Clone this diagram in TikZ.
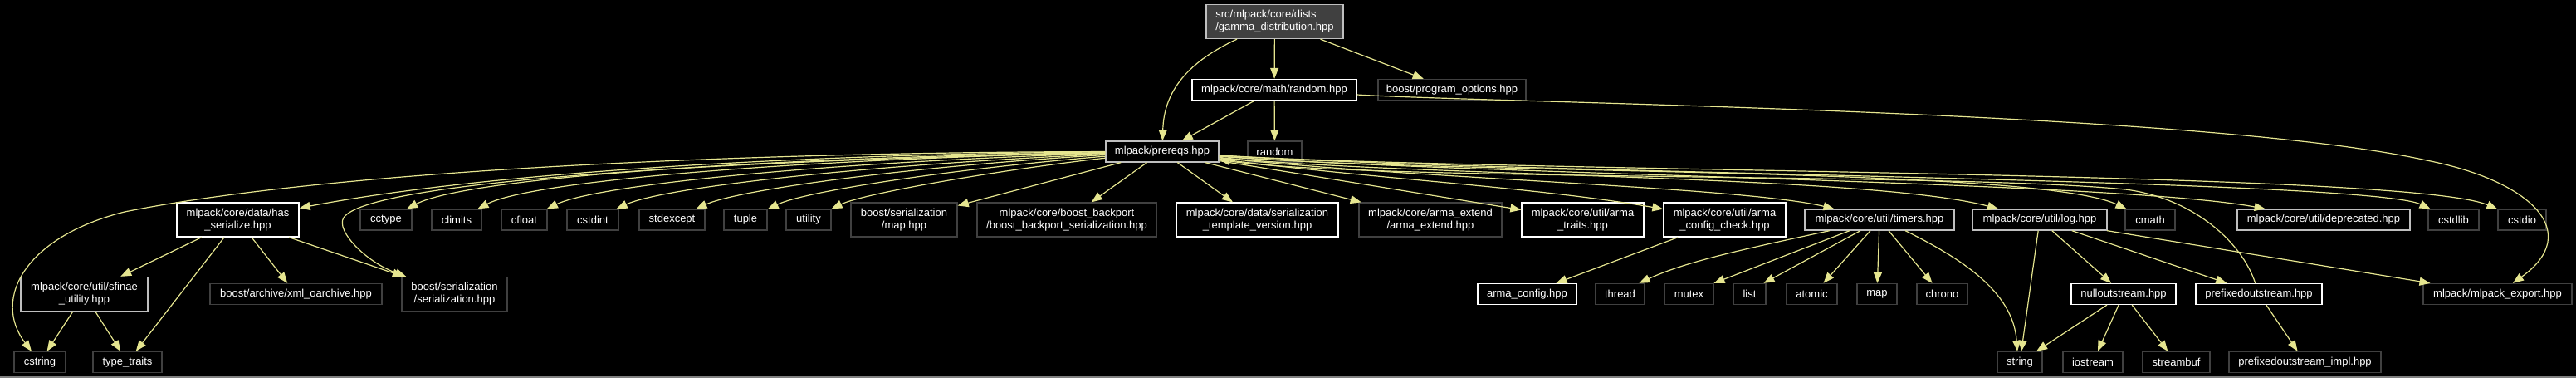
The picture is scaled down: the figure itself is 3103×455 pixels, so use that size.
\documentclass[tikz,border=0pt]{standalone}
\usepackage{fontspec}
\setmainfont{Liberation Sans}
\usetikzlibrary{arrows.meta,calc}
\definecolor{edgec}{RGB}{229,229,143}
\definecolor{dkgrey}{RGB}{64,64,64}
\definecolor{ltgrey}{RGB}{191,191,191}
\definecolor{rootfill}{RGB}{64,64,64}
\tikzset{
  box/.style={draw, line width=1.3pt, inner sep=0pt, text=white,
    font=\fontsize{13}{15}\selectfont, align=center, minimum height=25pt},
  dbox/.style={box, draw=dkgrey},
  lbox/.style={box, draw=white},
  gbox/.style={box, draw=ltgrey},
  two/.style={minimum height=41pt},
  conn/.style={draw=edgec, line width=1.2pt, -{Triangle[length=13pt,width=10pt]}}
}
\begin{document}
\begin{tikzpicture}[x=1pt,y=-1pt]
\useasboundingbox (0,0) rectangle (3103,455);
\fill[black] (0,0) rectangle (3103,455);
\draw[gray, line width=1.5pt] (0,454) -- (3103,454);

% row 1-2
\node[gbox, two, fill=rootfill, minimum width=165pt, align=left] (root) at (1535.5,26) {src/mlpack/core/dists\\/gamma\_distribution.hpp};
\node[lbox, minimum width=198pt] (rnd) at (1535,108) {mlpack/core/math/random.hpp};
\node[dbox, minimum width=178pt] (po) at (1749,108) {boost/program\_options.hpp};
\node[gbox, minimum width=136pt] (prereqs) at (1400,182.5) {mlpack/prereqs.hpp};
\node[dbox, minimum width=65pt] (random) at (1535.5,182.5) {random};

% row 3
\node[lbox, two, minimum width=147pt] (hasser) at (286.5,264.5) {mlpack/core/data/has\\\_serialize.hpp};
\node[dbox, minimum width=62pt] (cctype) at (465,264.5) {cctype};
\node[dbox, minimum width=60pt] (climits) at (550,264.5) {climits};
\node[dbox, minimum width=55pt] (cfloat) at (631.5,264.5) {cfloat};
\node[dbox, minimum width=62pt] (cstdint) at (714,264.5) {cstdint};
\node[dbox, minimum width=79pt] (stdexcept) at (809.5,264.5) {stdexcept};
\node[dbox, minimum width=52pt] (tuple) at (898,264.5) {tuple};
\node[dbox, minimum width=54pt] (utility) at (974,264.5) {utility};
\node[dbox, two, minimum width=128pt] (sermap) at (1089,264.5) {boost/serialization\\/map.hpp};
\node[dbox, two, minimum width=216pt] (backport) at (1285,264.5) {mlpack/core/boost\_backport\\/boost\_backport\_serialization.hpp};
\node[lbox, two, minimum width=195pt] (stv) at (1514.5,264.5) {mlpack/core/data/serialization\\\_template\_version.hpp};
\node[dbox, two, minimum width=172pt] (armaext) at (1723,264.5) {mlpack/core/arma\_extend\\/arma\_extend.hpp};
\node[lbox, two, minimum width=147pt] (armatraits) at (1906.5,264.5) {mlpack/core/util/arma\\\_traits.hpp};
\node[lbox, two, minimum width=147pt] (acc) at (2077.5,264.5) {mlpack/core/util/arma\\\_config\_check.hpp};
\node[gbox, minimum width=180pt] (timers) at (2264,264.5) {mlpack/core/util/timers.hpp};
\node[gbox, minimum width=162pt] (log) at (2457,264.5) {mlpack/core/util/log.hpp};
\node[dbox, minimum width=60pt] (cmath) at (2590,264.5) {cmath};
\node[gbox, minimum width=208pt] (deprec) at (2799,264.5) {mlpack/core/util/deprecated.hpp};
\node[dbox, minimum width=61pt] (cstdlib) at (2955.5,264.5) {cstdlib};
\node[dbox, minimum width=58pt] (cstdio) at (3038,264.5) {cstdio};

% row 4
\node[gbox, two, minimum width=153pt] (sfinae) at (101.5,354) {mlpack/core/util/sfinae\\\_utility.hpp};
\node[dbox, minimum width=207pt] (xmlo) at (356.5,354) {boost/archive/xml\_oarchive.hpp};
\node[dbox, two, minimum width=127pt] (serial) at (547.5,354) {boost/serialization\\/serialization.hpp};
\node[lbox, minimum width=119pt] (armaconfig) at (1839.5,354) {arma\_config.hpp};
\node[dbox, minimum width=59pt] (thread) at (1951.5,354) {thread};
\node[dbox, minimum width=59pt] (mutex) at (2034.5,354) {mutex};
\node[dbox, minimum width=39pt] (list) at (2107.5,354) {list};
\node[dbox, minimum width=61pt] (atomic) at (2182.5,354) {atomic};
\node[dbox, minimum width=48pt] (map) at (2261,354) {map};
\node[dbox, minimum width=61pt] (chrono) at (2339.5,354) {chrono};
\node[lbox, minimum width=126pt] (nullout) at (2558,354) {nulloutstream.hpp};
\node[lbox, minimum width=152pt] (prefout) at (2721,354) {prefixedoutstream.hpp};
\node[dbox, minimum width=179pt] (mlexport) at (3008.5,354) {mlpack/mlpack\_export.hpp};

% row 5
\node[dbox, minimum width=62pt] (cstring) at (48,436) {cstring};
\node[dbox, minimum width=83pt] (typetraits) at (153.5,436) {type\_traits};
\node[dbox, minimum width=54pt] (string) at (2433,436) {string};
\node[dbox, minimum width=72pt] (iostream) at (2521,436) {iostream};
\node[dbox, minimum width=81pt] (streambuf) at (2621.5,436) {streambuf};
\node[dbox, minimum width=183pt] (pimpl) at (2776.5,436) {prefixedoutstream\_impl.hpp};

% edges from root
\draw[conn] (root) -- (rnd);
\draw[conn] (root) -- (po);
\draw[conn] (root) .. controls (1430,75) and (1402,110) .. (prereqs);

% edges from random.hpp
\draw[conn] (rnd) -- (prereqs);
\draw[conn] (rnd) -- (random);
\draw[conn] (rnd) .. controls (1800,124) and (2650,133) .. (2923,193) .. controls (3050,218) and (3112,280) .. (mlexport);

% edges from prereqs, left side
\draw[conn] (prereqs) .. controls (900,183) and (400,205) .. (150,255) .. controls (30,285) and (-10,360) .. (cstring);
\draw[conn] (prereqs) .. controls (1000,185) and (600,205) .. (hasser);
\draw[conn] (prereqs) .. controls (800,195) and (440,222) .. (414,262) .. controls (404,277) and (440,315) .. (serial);
\draw[conn] (prereqs) .. controls (900,190) and (560,215) .. (cctype);
\draw[conn] (prereqs) .. controls (950,192) and (640,218) .. (climits);
\draw[conn] (prereqs) .. controls (1000,195) and (720,222) .. (cfloat);
\draw[conn] (prereqs) .. controls (1050,198) and (800,225) .. (cstdint);
\draw[conn] (prereqs) .. controls (1100,200) and (890,228) .. (stdexcept);
\draw[conn] (prereqs) .. controls (1150,203) and (970,230) .. (tuple);
\draw[conn] (prereqs) .. controls (1200,205) and (1040,233) .. (utility);

% edges from prereqs, below
\draw[conn] (prereqs) -- (sermap);
\draw[conn] (prereqs) -- (backport);
\draw[conn] (prereqs) -- (stv);
\draw[conn] (prereqs) -- (armaext);
\draw[conn] (prereqs) -- (armatraits);
\draw[conn] (prereqs) .. controls (1650,215) and (1850,225) .. (acc);

% edges from prereqs, right side
\draw[conn] (prereqs) .. controls (1700,215) and (2100,225) .. (timers);
\draw[conn] (prereqs) .. controls (1700,213) and (2250,210) .. (log);
\draw[conn] (prereqs) .. controls (1750,211) and (2450,200) .. (cmath);
\draw[conn] (prereqs) .. controls (1750,210) and (2550,218) .. (deprec);
\draw[conn] (prereqs) .. controls (1800,209) and (2850,215) .. (cstdlib);
\draw[conn] (prereqs) .. controls (1800,208) and (2900,205) .. (cstdio);

% back edge
\draw[conn] (prefout) .. controls (2700,290) and (2640,238) .. (2560,228) .. controls (2360,208) and (1650,218) .. (prereqs);

% has_serialize
\draw[conn] (hasser) -- (sfinae);
\draw[conn] (hasser) -- (typetraits);
\draw[conn] (hasser) -- (xmlo);
\draw[conn] (hasser) -- (serial);
\draw[conn] (sfinae) -- (cstring);
\draw[conn] (sfinae) -- (typetraits);

% arma config
\draw[conn] (acc) -- (armaconfig);

% timers
\draw[conn] ($(timers.south)+(-60,0)$) .. controls (2100,300) and (2030,315) .. ($(thread.north)+(23,0)$);
\draw[conn] ($(timers.south)+(-36,0)$) -- ($(mutex.north)+(30,0)$);
\draw[conn] ($(timers.south)+(-23,0)$) -- ($(list.north)+(17,0)$);
\draw[conn] ($(timers.south)+(-11,0)$) -- ($(atomic.north)+(14,0)$);
\draw[conn] (timers) -- (map);
\draw[conn] ($(timers.south)+(11,0)$) -- ($(chrono.north)+(-12,0)$);
\draw[conn] ($(timers.south)+(31,0)$) .. controls (2360,310) and (2425,350) .. ($(string.north)+(-3,0)$);

% log
\draw[conn] (log) -- (string);
\draw[conn] (log) -- (nullout);
\draw[conn] (log) -- (prefout);
\draw[conn] (log) -- (mlexport);

% streams
\draw[conn] (nullout) -- (string);
\draw[conn] (nullout) -- (iostream);
\draw[conn] (nullout) -- (streambuf);
\draw[conn] (prefout) -- (pimpl);
\end{tikzpicture}
\end{document}
